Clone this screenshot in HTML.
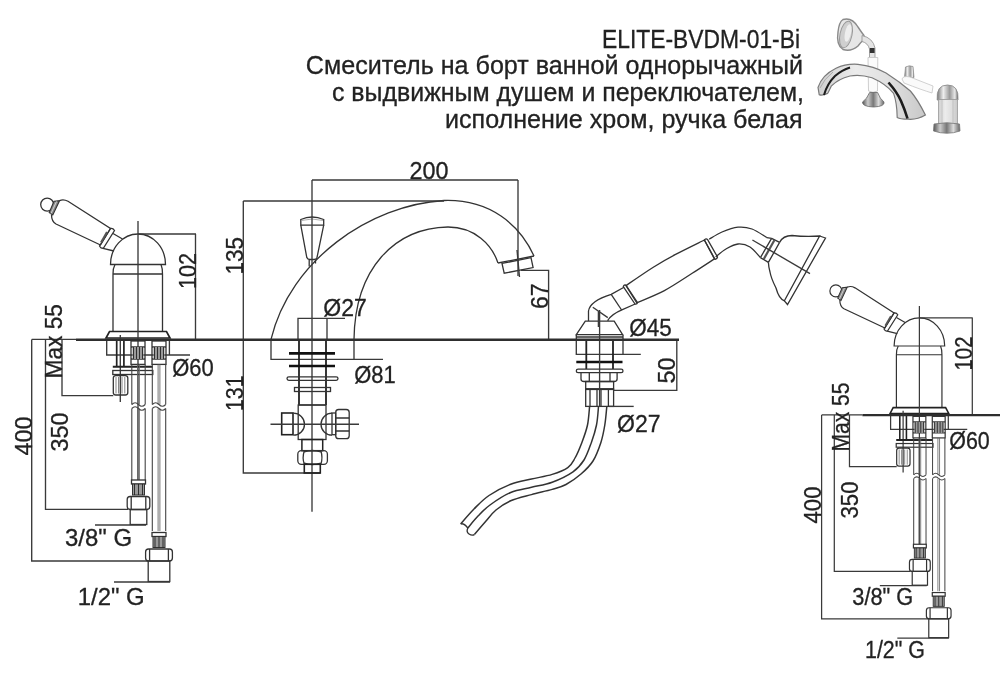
<!DOCTYPE html>
<html><head><meta charset="utf-8"><style>
html,body{margin:0;padding:0;background:#fff;}
svg{display:block;will-change:transform;}
text{font-family:"Liberation Sans",sans-serif;fill:#222;stroke:#222;stroke-width:0.3;}
.o{fill:none;stroke:#333;stroke-width:1.3;}
.o2{fill:none;stroke:#222;stroke-width:1.7;}
.o3{fill:none;stroke:#333;stroke-width:1.5;}
.p{fill:none;stroke:#444;stroke-width:1.1;}
.pc{fill:none;stroke:#666;stroke-width:0.9;}
.d{fill:none;stroke:#3a3a3a;stroke-width:1.35;}
</style></head><body>
<svg width="1000" height="675" viewBox="0 0 1000 675">

<defs>
<filter id="bl" x="-10%" y="-10%" width="120%" height="120%"><feGaussianBlur stdDeviation="0.55"/></filter>
<linearGradient id="sp" x1="0" y1="0" x2="1" y2="0">
<stop offset="0" stop-color="#cfcfcf"/><stop offset="0.35" stop-color="#ececec"/><stop offset="0.7" stop-color="#dedede"/><stop offset="1" stop-color="#c8c8c8"/>
</linearGradient>
<linearGradient id="chromeh" x1="0" y1="0" x2="1" y2="0">
<stop offset="0" stop-color="#777"/><stop offset="0.3" stop-color="#eee"/><stop offset="0.6" stop-color="#999"/><stop offset="0.85" stop-color="#e8e8e8"/><stop offset="1" stop-color="#666"/>
</linearGradient>
<linearGradient id="cone" x1="0" y1="0" x2="1" y2="0">
<stop offset="0" stop-color="#555"/><stop offset="0.25" stop-color="#ccc"/><stop offset="0.5" stop-color="#777"/><stop offset="0.75" stop-color="#ddd"/><stop offset="1" stop-color="#666"/>
</linearGradient>
</defs>
<g filter="url(#bl)">
<!-- shower head -->
<path d="M843,19.5 Q852,17 858,27 Q862,33 864,35.5 L864,39.5 Q861,42 858,46 Q851,52 843,49.5 Q836,45 838,32 Q839,22 843,19.5 Z" fill="#e6e6e6" stroke="#8a8a8a" stroke-width="1.4"/>
<ellipse cx="846" cy="34.5" rx="6" ry="13.5" transform="rotate(12 846 34.5)" fill="#cfcfcf" stroke="#999" stroke-width="1"/>
<ellipse cx="848" cy="33" rx="3" ry="9" transform="rotate(12 848 33)" fill="#eee"/>
<path d="M862,35.5 Q873,38 875,48 L875,58 L869.5,58 L869.5,49 Q868,43 862,41.5 Z" fill="#e4e4e4" stroke="#999" stroke-width="0.9"/>
<path d="M869.8,48 L874.6,48 L874.6,53 L869.8,53 Z" fill="#333"/>
<!-- shower white handle -->
<path d="M868,57.5 L877.8,57.5 L877.5,91 Q873,93.5 868.5,91 Z" fill="#fbfbfb" stroke="#c8c8c8" stroke-width="0.9"/>
<!-- shower cone base -->
<path d="M869.6,92.5 L877.6,92.5 Q880,99 884,102 Q885,106.5 873.5,107 Q862,106.5 862.5,102 Q867,99 869.6,92.5 Z" fill="url(#cone)" stroke="#666" stroke-width="0.8"/>
<!-- spout -->
<path d="M818,87.4 Q822,75 836,68.2 Q846,63.5 858,64.3 Q874,66 886,73 Q900,82 910.4,91 Q918,100 925.4,115 Q917,120 908,119.2 Q900,119 897.2,117.4 Q897,103 893.6,93.4 Q886,84 872,77.8 Q860,74 850,76 Q838,79 831.2,86.2 Q828,93 827.6,93.4 Q822,96 819.2,94.6 Z" fill="url(#sp)" stroke="#7a7a7a" stroke-width="1.2"/>
<path d="M824,95 Q827,84 835,76 Q842,70 850,67.5" fill="none" stroke="#1a1a1a" stroke-width="2"/>
<path d="M888.5,82.5 Q897,92 901,101 Q905,110 907.5,118.5" fill="none" stroke="#1a1a1a" stroke-width="2.6"/>
<path d="M820,88 Q824,79 833,72" fill="none" stroke="#aaa" stroke-width="1"/>
<!-- diverter knob -->
<path d="M904.5,77.5 L905.5,67 Q909,65 913,66.5 L914,77.5 Z" fill="url(#chromeh)" stroke="#888" stroke-width="0.7"/>
<!-- lever white -->
<path d="M902,79 Q903,75.5 910,77 L933,86 L932,93 Q922,90 904,83 Z" fill="#fafafa" stroke="#c5c5c5" stroke-width="0.8"/>
<!-- mixer body -->
<path d="M937.2,100 Q936,85 947.5,85 Q959,85 958,100 Z" fill="url(#chromeh)" stroke="#8a8a8a" stroke-width="0.9"/>
<rect x="938.5" y="99.5" width="19" height="24.5" fill="url(#sp)" stroke="#9a9a9a" stroke-width="0.8"/>
<path d="M942,100 L942,123 M953,100 L953,123" stroke="#bbb" stroke-width="0.8"/>
<path d="M934,124 Q947,121.5 959.5,124 L960,131 Q947,135.5 933.5,131 Z" fill="url(#cone)" stroke="#777" stroke-width="0.8"/>
</g>

<g id="mx"><circle cx="47.2" cy="204.6" r="6.5" class="o"/><path d="M54,201.3 L59.6,200.6 L52.8,215 L49.2,212.5 Z" fill="#888" stroke="#333" stroke-width="1.1"/><path d="M56.5,201.5 L51,213.5" stroke="#ddd" stroke-width="0.9" fill="none"/><path d="M59.6,200.6 Q63.5,198.8 68,201.3 L110.5,228.5 L100.5,245 L56,224 Q51.5,221.5 51.5,214.5" class="o"/><path d="M110.5,228.5 Q113,228 114.5,230.5 L103.5,248 Q101,249 99.5,246 Z" class="o"/><path d="M107,232 L101,242.5" stroke="#555" stroke-width="2" fill="none"/><path d="M113,233.5 L122.5,239 M103,248.3 L114,251" class="o"/><path d="M110.5,264.5 A27.5,30.5 0 0 1 165.5,264.5 Z" class="o"/><path d="M115,264.5 Q113,268 113,274 L113,331.5 M161,264.5 Q162.5,268 162.5,274 L162.5,331.5 M113,274 L162.5,274" class="o"/><path d="M109.5,331.5 L166.5,331.5 L170,338 L106,338 Z" class="o2"/><path d="M138,221 L138,480" class="d"/><path d="M138,234 L196,234 M195.5,234 L195.5,339.5" class="d"/><path d="M106.7,339.5 L106.7,355 L190,355 M169.4,339.5 L169.4,355" class="d"/><path d="M116.7,339.5 L116.7,366.5 M123.9,339.5 L123.9,366.5" class="o2"/><path d="M120.3,335 L120.3,402" class="d"/><rect x="131.0" y="341" width="14.0" height="23.4" class="o"/><path d="M131.0,347 L145.0,347 M131.0,359 L145.0,359" class="o"/><rect x="132.5" y="347" width="11.0" height="12" fill="#999"/><path d="M133.5,347 L133.5,359" stroke="#222" stroke-width="0.9"/><path d="M136.5,347 L136.5,359" stroke="#222" stroke-width="0.9"/><path d="M139.5,347 L139.5,359" stroke="#222" stroke-width="0.9"/><path d="M142.5,347 L142.5,359" stroke="#222" stroke-width="0.9"/><rect x="152.0" y="341" width="14.0" height="23.4" class="o"/><path d="M152.0,347 L166.0,347 M152.0,359 L166.0,359" class="o"/><rect x="153.5" y="347" width="11.0" height="12" fill="#999"/><path d="M154.5,347 L154.5,359" stroke="#222" stroke-width="0.9"/><path d="M157.5,347 L157.5,359" stroke="#222" stroke-width="0.9"/><path d="M160.5,347 L160.5,359" stroke="#222" stroke-width="0.9"/><path d="M163.5,347 L163.5,359" stroke="#222" stroke-width="0.9"/><path d="M112.8,366.7 L152.8,366.7" stroke="#222" stroke-width="2"/><rect x="112.8" y="370.5" width="40" height="4" class="o"/><rect x="113.3" y="375.6" width="14.5" height="19.4" rx="2.5" class="o"/><path d="M116.0,377 L116.0,393.5" stroke="#666" stroke-width="0.8"/><path d="M118.5,377 L118.5,393.5" stroke="#666" stroke-width="0.8"/><path d="M122.0,377 L122.0,393.5" stroke="#666" stroke-width="0.8"/><path d="M124.8,377 L124.8,393.5" stroke="#666" stroke-width="0.8"/><path d="M62,339.5 L62,395.6 L113.3,395.6" class="d"/><path d="M45.5,339.5 L45.5,509.4 L128,509.4" class="d"/><path d="M31.7,339.5 L31.7,561 L148,561" class="d"/><path d="M31.7,339.3 L76,339.3" class="d"/><path d="M131.8,364.4 L131.8,404.5 M131.8,408.5 L131.8,480.0" class="p"/><path d="M137.6,364.4 L137.6,404.5 M137.6,408.5 L137.6,480.0" class="pc"/><path d="M139.4,364.4 L139.4,404.5 M139.4,408.5 L139.4,480.0" class="pc"/><path d="M145.2,364.4 L145.2,404.5 M145.2,408.5 L145.2,480.0" class="p"/><path d="M131.8,404.5 q3.3,-3.5 6.7,0 q3.3,3.5 6.7,0 M131.8,408.5 q3.3,-3.5 6.7,0 q3.3,3.5 6.7,0" class="p" /><path d="M152.3,364.4 L152.3,404.5 M152.3,408.5 L152.3,531.0" class="p"/><path d="M158.1,364.4 L158.1,404.5 M158.1,408.5 L158.1,531.0" class="pc"/><path d="M159.9,364.4 L159.9,404.5 M159.9,408.5 L159.9,531.0" class="pc"/><path d="M165.7,364.4 L165.7,404.5 M165.7,408.5 L165.7,531.0" class="p"/><path d="M152.3,404.5 q3.3,-3.5 6.7,0 q3.3,3.5 6.7,0 M152.3,408.5 q3.3,-3.5 6.7,0 q3.3,3.5 6.7,0" class="p" /><rect x="131.5" y="480.0" width="14" height="4" class="o"/><rect x="132.5" y="484.0" width="12" height="11" fill="#999" stroke="#333" stroke-width="1"/><path d="M134.5,484.0 L134.5,495.0" stroke="#222" stroke-width="0.9"/><path d="M138.5,484.0 L138.5,495.0" stroke="#222" stroke-width="0.9"/><path d="M142.5,484.0 L142.5,495.0" stroke="#222" stroke-width="0.9"/><rect x="127.2" y="496.5" width="22.6" height="13.0" rx="3" class="o"/><path d="M131.2,496.5 L131.2,509.5 M145.8,496.5 L145.8,509.5" class="o"/><rect x="130.2" y="509.5" width="16.6" height="15.0" class="o"/><rect x="152.0" y="532.5" width="14" height="4" class="o"/><rect x="153.0" y="536.5" width="12" height="11" fill="#999" stroke="#333" stroke-width="1"/><path d="M155.0,536.5 L155.0,547.5" stroke="#222" stroke-width="0.9"/><path d="M159.0,536.5 L159.0,547.5" stroke="#222" stroke-width="0.9"/><path d="M163.0,536.5 L163.0,547.5" stroke="#222" stroke-width="0.9"/><rect x="145.6" y="549.0" width="26.8" height="12.0" rx="3" class="o"/><path d="M149.6,549.0 L149.6,561.0 M168.4,549.0 L168.4,561.0" class="o"/><rect x="148.2" y="561.0" width="21.6" height="20.5" class="o"/><path d="M95,525 L146,525" class="d"/><path d="M114,582 L170,582" class="d"/></g>
<use href="#mx" transform="translate(792.44,102.66) scale(0.92)"/>
<path d="M271,339.4 C290,260 370,205 444,200.5 C490,199 520,225 534,256" class="o"/><path d="M354,339.4 C355,268 395,228 448,227 C475,227 492,245 498,263" class="o"/><path d="M498,263 L534,256" class="o"/><path d="M502,263.4 L531,257.7 L533.1,267.6 L504.2,273.2 Z" class="o"/><path d="M517,250 L519.5,277" class="d"/><path d="M300.8,225.1 L300.8,219.5 Q312,214.5 323.7,219.5 L323.7,225.1 Z" class="o"/><path d="M301.5,220.5 Q312,217.5 323,220.5" stroke="#999" stroke-width="0.8" fill="none"/><path d="M300.8,225.1 L306.8,257.5 Q307.5,259.5 310,259.5 L314,259.5 Q316.5,259.5 317,257.5 L323.7,225.1" class="o"/><path d="M309.2,259.5 L309.2,266.5 M315.5,259.5 L315.5,263.5" class="o"/><path d="M312,180 L518,180 M518,180 L518,276 M312,180 L312,511.7" class="d"/><path d="M243.3,201 L444,201 M243.3,201 L243.3,473 L320.3,473" class="d"/><path d="M521,270.4 L548.6,270.4 L548.6,339.4" class="d"/><path d="M271,339.4 L271,359.4 L383,359.4 M354,339.4 L354,359.4" class="d"/><path d="M298,339.4 L298,318.4 L345,318.4 M327,318.4 L327,339.4" class="d"/><path d="M299,339.4 L299,405 M326,339.4 L326,405" stroke="#222" stroke-width="1.8" fill="none"/><path d="M289,353.4 L335,353.4 M289,366 L335,366" stroke="#111" stroke-width="2.6"/><rect x="287" y="376.8" width="51" height="3.6" rx="1.8" class="o"/><rect x="294.5" y="387.5" width="36" height="4" class="o"/><path d="M298,405 L326,405" class="o"/><rect x="298.2" y="405" width="27.8" height="34.5" class="o"/><path d="M293.5,413.2 A11,11 0 0 1 293.5,435.2 M332,413.2 A11,11 0 0 0 332,435.2" class="o"/><rect x="281.7" y="413" width="11.3" height="21.7" stroke="#222" stroke-width="1.6" fill="none"/><rect x="332" y="413" width="3.7" height="21.7" class="o"/><rect x="335.7" y="409.5" width="13.5" height="29.2" rx="3" class="o"/><path d="M335.7,418 L349.2,418 M335.7,431 L349.2,431" class="o"/><path d="M270.5,424.2 L359,424.2" class="d"/><rect x="301.9" y="439.5" width="20.8" height="11.2" stroke="#222" stroke-width="1.5" fill="none"/><rect x="297.8" y="450.7" width="29.6" height="13.6" rx="3.5" class="o"/><path d="M304.3,450.7 Q302,457.5 304.3,464.3 M320.9,450.7 Q323,457.5 320.9,464.3 M304.3,452 Q312,449 320.9,452 M304.3,463 Q312,466 320.9,463" class="o"/><rect x="304.3" y="464.3" width="16" height="8.7" stroke="#222" stroke-width="1.6" fill="none"/>
<path d="M585.3,321.1 L614.2,321.1 L622.6,334.7 L576.3,334.7 Z" class="o"/><path d="M576.3,334.7 L576.3,339.2 M623,334.7 L623,339.2 M576.3,337 L623,337" class="o"/><path d="M576.3,339.2 L576.3,354.3 L640.8,354.3 M623,339.2 L623,354.3" class="d"/><path d="M586.3,339.2 L586.3,369 M613,339.2 L613,369" stroke="#222" stroke-width="1.8" fill="none"/><path d="M576.3,362 L622.5,362" stroke="#111" stroke-width="2.6"/><rect x="576.3" y="369.1" width="46.7" height="3.6" rx="1.8" class="o"/><path d="M581,372.7 L581,379 Q581,381.5 584,381.5 L614,381.5 Q617.1,381.5 617.1,379 L617.1,372.7 M589.3,372.7 L589.3,381.5 M610,372.7 L610,381.5" class="o"/><rect x="585.7" y="381.5" width="27.9" height="7.7" class="o"/><path d="M585.7,389.2 L613.6,389.2" stroke="#222" stroke-width="1.8"/><rect x="585.7" y="389.2" width="27.9" height="17.2" class="o"/><path d="M590,389.2 L590,406.4 M597,389.2 L597,406.4 M601,389.2 L601,406.4 M608.4,389.2 L608.4,406.4" class="o"/><path d="M599.6,310 L599.6,407" class="d"/><path d="M613,390.4 L676.8,390.4 L676.8,339.4" class="d"/><path d="M608.8,406.4 L633.7,406.4" class="d"/><path d="M589.6,406.5 C589.2,409.6 588.8,419.0 587.5,425.0 C586.2,431.0 584.0,436.9 581.9,442.4 C579.8,447.9 577.4,453.8 575.0,458.0 C572.6,462.2 571.6,464.9 567.8,467.6 C564.0,470.3 558.2,472.5 552.2,474.4 C546.2,476.3 538.4,477.4 531.5,479.0 C524.6,480.6 517.8,481.4 510.7,484.2 C503.6,486.9 495.1,491.4 489.0,495.5 C482.9,499.6 478.7,504.3 474.0,509.0 C469.3,513.7 462.9,521.4 460.7,523.9" class="o3"/><path d="M598.5,406.5 C598.2,409.6 597.7,419.0 596.5,425.0 C595.3,431.0 593.5,436.6 591.4,442.4 C589.3,448.2 587.1,455.1 584.0,460.0 C580.9,464.9 578.3,468.1 573.0,471.8 C567.7,475.5 559.1,479.6 552.2,482.2 C545.3,484.8 538.4,485.6 531.5,487.3 C524.6,489.0 517.6,489.6 510.7,492.5 C503.8,495.4 495.4,501.1 490.0,505.0 C484.6,508.9 481.7,512.2 478.0,516.0 C474.3,519.8 469.5,526.0 467.8,528.0" class="o3"/><path d="M606.8,406.5 C606.5,409.6 605.8,419.0 604.8,425.0 C603.8,431.0 602.9,436.4 600.9,442.4 C598.9,448.4 596.3,455.7 593.0,461.0 C589.7,466.3 585.5,470.1 581.0,474.0 C576.5,477.9 570.8,481.9 566.0,484.5 C561.2,487.1 558.0,487.7 552.2,489.4 C546.5,491.1 538.4,492.7 531.5,494.6 C524.6,496.5 516.6,498.2 510.7,500.8 C504.8,503.4 500.1,506.6 496.0,510.0 C491.9,513.4 489.6,516.9 486.0,521.0 C482.4,525.1 476.3,532.3 474.4,534.6" class="o3"/><path d="M460.7,523.9 Q464,523 467.8,528 Q466,532 469,534 Q472,536 474.4,534.6" class="o"/><path d="M588.5,321.1 L588.5,311 Q590,301 611.2,294.4 L624,287.2" class="o"/><path d="M608,321.1 L608,320 Q612,314 622.4,309.6 L635.2,304" class="o"/><path d="M611.2,294.4 L621.6,310" class="o"/><path d="M592.8,307.2 L607.8,317.6 M598.4,311 L598.4,327" class="d"/><path d="M626.0,285.6 C630.5,282.5 645.0,272.4 653.3,267.2 C661.6,262.0 667.1,258.9 675.6,254.4 C684.1,249.9 699.6,242.4 704.4,240.0 L714.4,258.9  C710.7,261.3 700.5,268.0 692.2,273.3 C683.9,278.6 673.6,285.7 664.4,290.6 C655.1,295.5 641.3,300.8 636.7,302.8 Z" class="o"/><path d="M623.3,286.6 Q624,284.5 626,285.2 L637.5,302.5 Q637,304.5 635,304 Z" class="o"/><path d="M704.4,240 Q706,238 707.5,239.5 L717.5,257 Q717,259.5 715,259.3 Z" class="o"/><path d="M709.2,239.2 C711.3,238.0 717.2,234.0 722.0,232.0 C726.8,230.0 733.0,227.7 738.0,227.2 C743.0,226.7 747.2,227.3 752.0,229.0 C756.8,230.7 764.3,236.2 766.8,237.6" class="o"/><path d="M715.6,256.8 C717.3,255.5 722.3,251.1 726.0,249.0 C729.7,246.9 734.0,244.3 738.0,244.0 C742.0,243.7 746.3,244.7 750.0,247.0 C753.7,249.3 758.7,255.8 760.4,257.6" class="o"/><path d="M760.4,257.6 L771.6,238.4 M766.8,237.6 L771.6,238.4 M768.4,262.4 L779.6,242.4 M771.6,238.4 L779.6,242.4 M760.4,257.6 L768.4,262.4" class="o"/><path d="M763.8,259 L774.5,240" stroke="#555" stroke-width="2.2"/><path d="M779.6,242.4 Q783,235.5 792,235.5 Q806,237 819.6,236 L784.4,300.8 Q779,299 776,288 Q771,278 770,272 Q768.5,266 768.4,262.4" class="o"/><path d="M819.6,236 L825.5,238 L787.5,304.5 L784.4,300.8" class="o"/><path d="M752.4,240 L810,273.6" class="d"/>
<path d="M76,339.7 L679,339.7" stroke="#2e2e2e" stroke-width="2.5"/>
<path d="M862.4,415.2 L1000,415.2" stroke="#2e2e2e" stroke-width="2.3"/>
<text x="602.0" y="48.0" font-size="25.2" textLength="198.0" lengthAdjust="spacingAndGlyphs">ELITE-BVDM-01-Bi</text><text x="305.8" y="74.0" font-size="25.2" textLength="497.2" lengthAdjust="spacingAndGlyphs">Смеситель на борт ванной однорычажный</text><text x="332.0" y="100.5" font-size="25.2" textLength="472.0" lengthAdjust="spacingAndGlyphs">с выдвижным душем и переключателем,</text><text x="445.0" y="127.5" font-size="25.2" textLength="357.5" lengthAdjust="spacingAndGlyphs">исполнение хром, ручка белая</text><text x="409.5" y="179.3" font-size="24.5" textLength="39.0" lengthAdjust="spacingAndGlyphs">200</text><text x="323.3" y="316.3" font-size="24.5" textLength="43.5" lengthAdjust="spacingAndGlyphs">Ø27</text><text x="354.3" y="383.3" font-size="24.5" textLength="41.5" lengthAdjust="spacingAndGlyphs">Ø81</text><text x="629.3" y="336.0" font-size="24.5" textLength="42.5" lengthAdjust="spacingAndGlyphs">Ø45</text><text x="617.0" y="432.0" font-size="24.5" textLength="43.5" lengthAdjust="spacingAndGlyphs">Ø27</text><text x="172.3" y="376.3" font-size="24.5" textLength="41.5" lengthAdjust="spacingAndGlyphs">Ø60</text><text x="65.0" y="545.5" font-size="24.5" textLength="67.0" lengthAdjust="spacingAndGlyphs">3/8" G</text><text x="77.7" y="604.5" font-size="24.5" textLength="67.0" lengthAdjust="spacingAndGlyphs">1/2" G</text><text x="949.3" y="449.3" font-size="23.0" textLength="40.5" lengthAdjust="spacingAndGlyphs">Ø60</text><text x="852.3" y="604.7" font-size="23.0" textLength="61.0" lengthAdjust="spacingAndGlyphs">3/8" G</text><text x="865.0" y="658.3" font-size="23.0" textLength="60.0" lengthAdjust="spacingAndGlyphs">1/2" G</text><text transform="translate(195.5,289.0) rotate(-90)" font-size="24.5" textLength="36.0" lengthAdjust="spacingAndGlyphs">102</text><text transform="translate(242.8,274.5) rotate(-90)" font-size="24.5" textLength="37.5" lengthAdjust="spacingAndGlyphs">135</text><text transform="translate(242.7,411.0) rotate(-90)" font-size="24.5" textLength="35.5" lengthAdjust="spacingAndGlyphs">131</text><text transform="translate(548.0,309.0) rotate(-90)" font-size="24.5" textLength="25.7" lengthAdjust="spacingAndGlyphs">67</text><text transform="translate(675.0,383.5) rotate(-90)" font-size="24.5" textLength="26.0" lengthAdjust="spacingAndGlyphs">50</text><text transform="translate(61.8,378.5) rotate(-90)" font-size="24.5" textLength="74.5" lengthAdjust="spacingAndGlyphs">Max 55</text><text transform="translate(31.6,455.5) rotate(-90)" font-size="24.5" textLength="39.0" lengthAdjust="spacingAndGlyphs">400</text><text transform="translate(67.5,451.5) rotate(-90)" font-size="24.5" textLength="39.0" lengthAdjust="spacingAndGlyphs">350</text><text transform="translate(971.5,370.5) rotate(-90)" font-size="23.0" textLength="34.0" lengthAdjust="spacingAndGlyphs">102</text><text transform="translate(849.4,451.5) rotate(-90)" font-size="23.0" textLength="69.0" lengthAdjust="spacingAndGlyphs">Max 55</text><text transform="translate(820.5,523.5) rotate(-90)" font-size="23.0" textLength="37.0" lengthAdjust="spacingAndGlyphs">400</text><text transform="translate(857.5,518.5) rotate(-90)" font-size="23.0" textLength="37.0" lengthAdjust="spacingAndGlyphs">350</text>
</svg>
</body></html>
